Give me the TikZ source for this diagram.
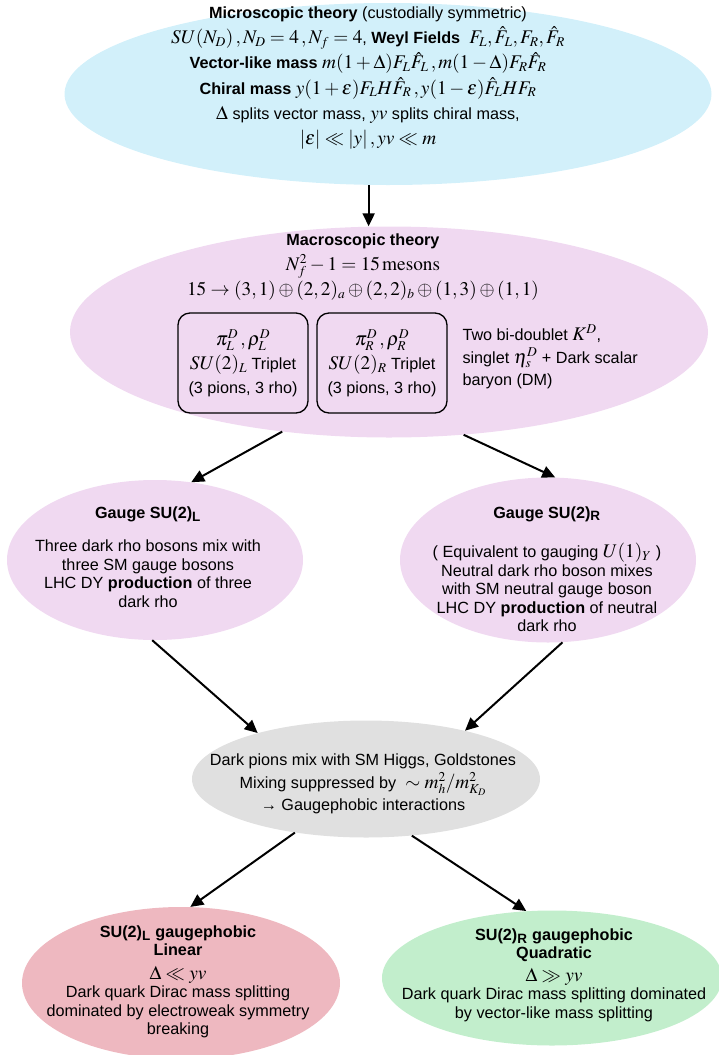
\documentclass[tikz,border=0pt]{standalone}
\usepackage{amsmath}
\usepackage{mathptmx}
\usepackage[no-math]{fontspec}
\setmainfont{Liberation Sans}
\usetikzlibrary{arrows.meta,shapes.geometric}
\DeclareMathSizes{16.2}{19.3}{13.5}{10}

\definecolor{microcol}{RGB}{210,240,250}
\definecolor{macrocol}{RGB}{240,217,241}
\definecolor{graycol}{RGB}{224,224,224}
\definecolor{linearcol}{RGB}{238,184,192}
\definecolor{quadcol}{RGB}{194,238,204}

\begin{document}
\begin{tikzpicture}[x=1pt, y=-1pt,
    blob/.style={ellipse, inner sep=0pt},
    txt/.style={align=center, font=\fontsize{16.2}{18.5}\selectfont},
    arr/.style={line width=2pt, -{Triangle[length=13pt,width=12pt]}},
    subbox/.style={draw, rounded corners=12pt, line width=1.3pt, minimum width=130pt, minimum height=100pt, inner sep=0pt}]
    \path[use as bounding box] (0,0) rectangle (719,1055);
    \clip (0,0) rectangle (719,1055);

    % 微观理论 (浅蓝色椭圆)
    \node[blob, fill=microcol, minimum width=647pt, minimum height=182pt] (micro) at (388,94) {};
    \node[txt, font=\fontsize{16.2}{25.2}\selectfont] (microtxt) at (368,78) {\textbf{Microscopic theory} (custodially symmetric)\\
        $SU(N_D)\,,N_D=4\,,N_f=4$, \textbf{Weyl Fields} \ $F_L,\hat F_L,F_R,\hat F_R$\\
        \textbf{Vector-like mass} $m(1+\Delta)F_L\hat F_L\,,m(1-\Delta)F_R\hat F_R$\\
        \textbf{Chiral mass} $y(1+\epsilon)F_LH\hat F_R\,,y(1-\epsilon)\hat F_LHF_R$\\
        $\Delta$ splits vector mass, $yv$ splits chiral mass,\\
        $|\epsilon|\ll|y|\,,yv\ll m$};

    % 宏观理论 (淡紫色椭圆)
    \node[blob, fill=macrocol, minimum width=638pt, minimum height=211pt] (macro) at (389,332) {};
    \node[txt, font=\fontsize{16.2}{25}\selectfont] (macrotxt) at (363,267) {\textbf{Macroscopic theory}\\
        $N_f^2-1=15\,\mathrm{mesons}$\\
        $15\to(3,1)\oplus(2,2)_a\oplus(2,2)_b\oplus(1,3)\oplus(1,1)$};

    % 两个三重态方框
    \node[subbox, txt, font=\fontsize{16.2}{24}\selectfont] (tripL) at (243,363) {$\pi_L^D\,,\rho_L^D$\\ $SU(2)_L$ Triplet\\ (3 pions, 3 rho)};
    \node[subbox, txt, font=\fontsize{16.2}{24}\selectfont] (tripR) at (382,363) {$\pi_R^D\,,\rho_R^D$\\ $SU(2)_R$ Triplet\\ (3 pions, 3 rho)};

    % 方框右侧的说明
    \node[txt, align=left, anchor=west, font=\fontsize{16.2}{22.5}\selectfont] (others) at (459,357) {Two bi-doublet $K^D$,\\ singlet $\eta_s^D$ + Dark scalar\\ baryon (DM)};

    % 规范 SU(2)_L 与 SU(2)_R
    \node[blob, fill=macrocol, minimum width=296pt, minimum height=160pt] (gaugeL) at (155,560) {};
    \node[txt] (gaugeLtxt) at (148,557) {\textbf{Gauge SU(2)\textsubscript{L}}\\[15pt]
        Three dark rho bosons mix with\\ three SM gauge bosons\\
        LHC DY \textbf{production} of three\\ dark rho};

    \node[blob, fill=macrocol, minimum width=296pt, minimum height=165pt] (gaugeR) at (548,560) {};
    \node[txt] (gaugeRtxt) at (547,569) {\textbf{Gauge SU(2)\textsubscript{R}}\\[21pt]
        ( Equivalent to gauging $U(1)_Y$ )\\ Neutral dark rho boson mixes\\
        with SM neutral gauge boson\\ LHC DY \textbf{production} of neutral\\ dark rho};

    % 暗介子与希格斯混合 (灰色椭圆)
    \node[blob, fill=graycol, minimum width=348pt, minimum height=117pt] (gray) at (366,779) {};
    \node[txt, font=\fontsize{16.2}{22.5}\selectfont] (graytxt) at (363,784) {Dark pions mix with SM Higgs, Goldstones\\
        Mixing suppressed by \ $\sim m_h^2/m_{K_D}^2$\\ → Gaugephobic interactions};

    % 底部的两种情形
    \node[blob, fill=linearcol, minimum width=318pt, minimum height=152pt] (botL) at (181,983) {};
    \node[txt] (botLtxt) at (178,982) {\textbf{SU(2)\textsubscript{L} gaugephobic}\\ \textbf{Linear}\\[5pt]
        $\Delta\ll yv$\\ Dark quark Dirac mass splitting\\
        dominated by electroweak symmetry\\ breaking};

    \node[blob, fill=quadcol, minimum width=340pt, minimum height=135pt] (botR) at (552,978) {};
    \node[txt] (botRtxt) at (554,975) {\textbf{SU(2)\textsubscript{R} gaugephobic}\\ \textbf{Quadratic}\\[4pt]
        $\Delta\gg yv$\\ Dark quark Dirac mass splitting dominated\\
        by vector-like mass splitting};

    % 箭头
    \draw[arr] (micro.258) -- (micro.258 |- macro.north);
    \draw[arr] (macro.223) -- (gaugeL.65);
    \draw[arr] (macro.306) -- (gaugeR.85);
    \draw[arr] (gaugeL.268) -- (gray.157);
    \draw[arr] (gaugeR.280) -- (gray.26);
    \draw[arr] (gray.217) -- (botL.83);
    \draw[arr] (gray.309) -- (botR.111);

\end{tikzpicture}
\end{document}
